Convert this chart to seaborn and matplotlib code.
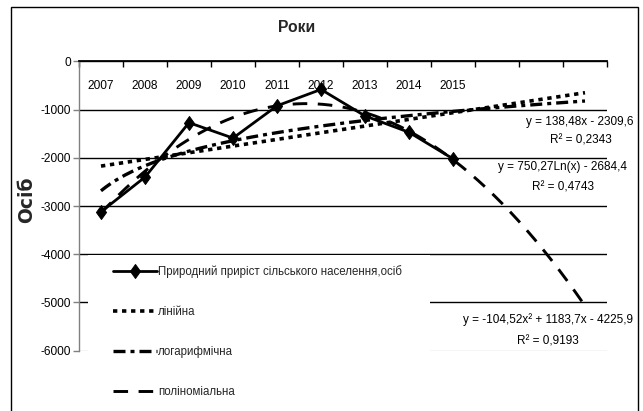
import numpy as np
import pandas as pd
import matplotlib
matplotlib.use("Agg")
import matplotlib.pyplot as plt
import seaborn as sns
from matplotlib import font_manager
from matplotlib.patches import Rectangle
from matplotlib.path import Path

# ---- data ----
years = ["2007", "2008", "2009", "2010", "2011", "2012", "2013", "2014", "2015"]
values = [-3120, -2400, -1270, -1590, -920, -580, -1130, -1470, -2020]
forecast_periods = 3
lin_coef = [138.48, -2309.6]          # y = a*x + b
log_coef = [750.27, -2684.4]          # y = a*ln(x) + b
poly_coef = [-104.52, 1183.7, -4225.9]  # y = a*x^2 + b*x + c
yticks = [0, -1000, -2000, -3000, -4000, -5000, -6000]
series_labels = ["Природний приріст сільського населення,осіб",
                 "лінійна", "логарифмічна", "поліноміальна"]
eq_lin = ["y = 138,48x - 2309,6", "R² = 0,2343"]
eq_log = ["y = 750,27Ln(x) - 2684,4", "R² = 0,4743"]
eq_poly = ["y = -104,52x² + 1183,7x - 4225,9", "R² = 0,9193"]
title = "Роки"
ylabel = "Осіб"

# ---- style ----
sns.set_theme(style="white")
names = {f.name for f in font_manager.fontManager.ttflist}
narrow = "Liberation Sans Narrow" if "Liberation Sans Narrow" in names else "Liberation Sans"
is_narrow = narrow.endswith("Narrow")
plt.rcParams["font.family"] = [narrow, "DejaVu Sans"]
k = 1.0 if is_narrow else 0.84   # size factor to keep text widths

W, H = 643, 411
fig = plt.figure(figsize=(W / 100, H / 100), dpi=100)
fig.patch.set_facecolor("white")
ax_top, ax_bot, ax_left, ax_right = 61.5, 350.5, 79, 607
ax = fig.add_axes([ax_left / W, 1 - ax_bot / H, (ax_right - ax_left) / W, (ax_bot - ax_top) / H])
ax.set_facecolor("white")

n_all = len(years) + forecast_periods
pos = np.arange(1, len(years) + 1)
df = pd.DataFrame({"x": pos, "y": values})

xs = np.linspace(1, n_all, 300)
trend = pd.DataFrame({
    "x": xs,
    "lin": np.polyval(lin_coef, xs),
    "log": log_coef[0] * np.log(xs) + log_coef[1],
    "poly": np.polyval(poly_coef, xs),
})

diamond = Path([(0, 1), (0.72, 0), (0, -1), (-0.72, 0), (0, 1)],
               [Path.MOVETO, Path.LINETO, Path.LINETO, Path.LINETO, Path.CLOSEPOLY])

sns.lineplot(data=trend, x="x", y="lin", ax=ax, color="black", lw=2.6,
             linestyle=(0, (1.2, 1.3)), label=series_labels[1], zorder=3)
sns.lineplot(data=trend, x="x", y="log", ax=ax, color="black", lw=2.4,
             linestyle=(0, (3.6, 1.5, 1.2, 1.5)), label=series_labels[2], zorder=3)
sns.lineplot(data=trend, x="x", y="poly", ax=ax, color="black", lw=2.1,
             linestyle=(0, (5.0, 3.6)), label=series_labels[3], zorder=3)
sns.lineplot(data=df, x="x", y="y", ax=ax, color="black", lw=2.0,
             marker=diamond, markersize=10, markeredgecolor="black",
             markerfacecolor="black", label=series_labels[0], zorder=4)
for ln in ax.get_lines():
    ln.set_dash_capstyle("butt")

ax.set_xlim(0.5, n_all + 0.5)
ax.set_ylim(-6000, 0)
ax.set_xlabel("")
ax.set_ylabel("")

fs = 10 * k

# x axis (at top, value 0)
ax.xaxis.tick_top()
ax.set_xticks(np.arange(0.5, n_all + 1, 1.0))
ax.set_xticklabels([])
ax.set_xticks(np.arange(1, n_all + 1), labels=years + [""] * forecast_periods, minor=True)
ax.tick_params(axis="x", which="major", direction="in", length=4, width=1, color="black", top=True, bottom=False)
ax.tick_params(axis="x", which="minor", length=0, pad=-22, labelsize=fs + 0.2, labelcolor="black",
               top=True, bottom=False, labeltop=True, labelbottom=False)

# y axis
ax.set_yticks(yticks)
ax.set_yticklabels([str(v) for v in yticks])
ax.tick_params(axis="y", direction="out", length=4, width=1, color="#808080", pad=2,
               labelsize=fs + 0.2, labelcolor="black", left=True)

ax.grid(axis="y", color="black", lw=1.0, zorder=1)
ax.grid(axis="x", visible=False)
for gl, v in zip(ax.get_ygridlines(), yticks):
    if v == -6000:
        gl.set_color("#d0d0d0")
ax.set_axisbelow(True)
for s in ["right", "bottom"]:
    ax.spines[s].set_visible(False)
ax.spines["top"].set_color("black")
ax.spines["top"].set_linewidth(1.3)
ax.spines["left"].set_color("#808080")
ax.spines["left"].set_linewidth(1.0)

# legend
handles, labels = ax.get_legend_handles_labels()
ax.get_legend().remove()
order = [labels.index(l) for l in series_labels]
handles = [handles[i] for i in order]
labels = [labels[i] for i in order]

fig.add_artist(Rectangle((88 / W, -0.05), (430 - 88) / W, 0.05 + 1 - 255 / H,
                         transform=fig.transFigure, facecolor="white", edgecolor="none", zorder=1))
fig.legend(handles, labels, loc="upper left", bbox_to_anchor=(113 / W, 1 - 265 / H),
           bbox_transform=fig.transFigure, frameon=False, fontsize=fs * 0.99,
           handlelength=3.8, handletextpad=0.1, labelspacing=2.43, borderpad=0,
           borderaxespad=0, numpoints=1)

# equations
def ftext(x, y, s, **kw):
    fig.text(x / W, 1 - y / H, s, ha="center", va="center", fontsize=fs + 0.1, color="black", **kw)

ftext(580, 122, eq_lin[0]); ftext(581, 140, eq_lin[1])
ftext(563, 167, eq_log[0]); ftext(563, 187, eq_log[1])
ftext(548, 320, eq_poly[0]); ftext(548, 341, eq_poly[1])

# titles
fig.text(297 / W, 1 - 28 / H, title, ha="center", va="center", fontsize=12 * k + 1.2, fontweight="bold")
fig.text(27 / W, 1 - 200 / H, ylabel, ha="center", va="center", fontsize=13.5,
         fontweight="bold", rotation=90, family=["DejaVu Sans"])

# outer chart border
fig.add_artist(Rectangle((11 / W, -0.05), (638 - 11) / W, 0.05 + 1 - 7 / H,
                         transform=fig.transFigure, facecolor="none", edgecolor="black",
                         lw=1.0, zorder=6))

fig.savefig("out.png", dpi=100)
